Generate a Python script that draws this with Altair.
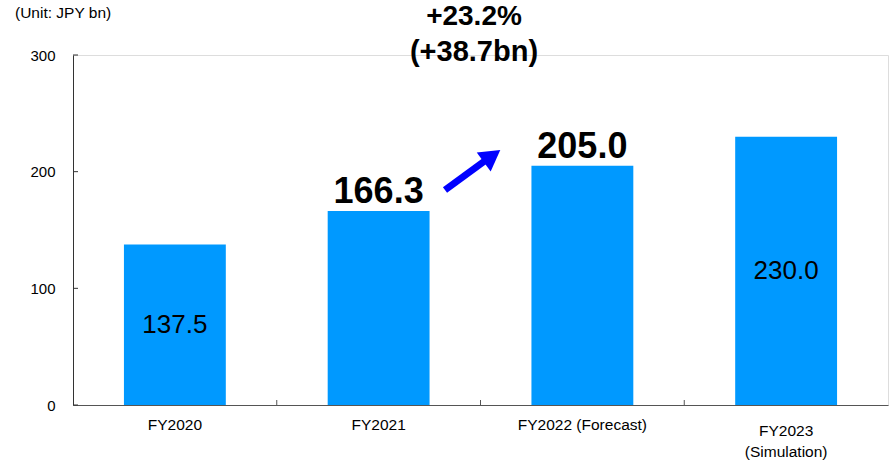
import altair as alt
import pandas as pd

# Net sales by fiscal year (JPY bn)
categories = ["FY2020", "FY2021", "FY2022 (Forecast)", "FY2023\n(Simulation)"]
values = [137.5, 166.3, 205.0, 230.0]
label_style = ["inside", "above", "above", "inside"]
y_ticks = [0, 100, 200, 300]
boundaries = ["FY2021", "FY2022 (Forecast)", "FY2023\n(Simulation)"]

FONT = "Liberation Sans"
BAR = "#0099FF"
W, H = 815, 350
STEP = W / len(categories)

df = pd.DataFrame({"cat": categories, "value": values, "style": label_style})
x_scale = alt.Scale(domain=categories, paddingInner=0.5, paddingOuter=0.25)
y_scale = alt.Scale(domain=[0, 300], nice=False)

base = alt.Chart(df)

# single-line category names come from the axis; two-line names are drawn below
bars = base.mark_bar(color=BAR).encode(
    x=alt.X("cat:N", scale=x_scale, sort=categories, title=None,
            axis=alt.Axis(labelAngle=0, labelFont=FONT, labelFontSize=15.5,
                          labelColor="#000000", labelPadding=12, tickSize=0,
                          domainColor="#555555", labelLimit=300,
                          labelExpr="indexof(datum.label, '\\n') >= 0 ? '' : datum.label")),
    y=alt.Y("value:Q", scale=y_scale, title=None,
            axis=alt.Axis(values=y_ticks, labelFont=FONT, labelFontSize=15,
                          labelColor="#000000", tickSize=0, labelPadding=18,
                          domainColor="#333333", grid=False)),
)

two_line = base.transform_filter("indexof(datum.cat, '\\n') >= 0").mark_text(
    font=FONT, fontSize=15.5, color="#000000", baseline="middle",
    lineBreak="\n", lineHeight=21, dy=-10,
).encode(
    x=alt.X("cat:N", scale=x_scale, sort=categories),
    y=alt.value(H + 36),
    text="cat:N",
)

inside = base.transform_filter("datum.style == 'inside'").transform_calculate(
    mid="datum.value / 2",
    txt="format(datum.value, '.1f')",
).mark_text(font=FONT, fontSize=26, color="#000000", baseline="middle").encode(
    x=alt.X("cat:N", scale=x_scale, sort=categories),
    y=alt.Y("mid:Q", scale=y_scale),
    text="txt:N",
)

above = base.transform_filter("datum.style == 'above'").transform_calculate(
    txt="format(datum.value, '.1f')"
).mark_text(font=FONT, fontSize=36, fontWeight="bold", color="#000000",
            baseline="alphabetic", dy=-8).encode(
    x=alt.X("cat:N", scale=x_scale, sort=categories),
    y=alt.Y("value:Q", scale=y_scale),
    text="txt:N",
)

# inward ticks on the y axis
ytick_df = pd.DataFrame({"v": y_ticks})
yticks = alt.Chart(ytick_df).mark_rule(color="#333333", strokeWidth=1).encode(
    y=alt.Y("v:Q", scale=y_scale),
    x=alt.value(0),
    x2=alt.value(5),
)

# inward ticks between categories on the x axis (half an inner gap left of each band)
xtick_df = pd.DataFrame({"cat": boundaries})
xticks = alt.Chart(xtick_df).mark_rule(color="#555555", strokeWidth=1,
                                       xOffset=-STEP * 0.25).encode(
    x=alt.X("cat:N", scale=x_scale, sort=categories, bandPosition=0),
    y=alt.value(H - 5),
    y2=alt.value(H),
)

one = pd.DataFrame({"k": [0]})

unit = alt.Chart(one).mark_text(font=FONT, fontSize=15.5, align="left",
                                baseline="middle", color="#000000").encode(
    x=alt.value(-58), y=alt.value(-42), text=alt.value("(Unit: JPY bn)"))

growth1 = alt.Chart(one).mark_text(font=FONT, fontSize=28, fontWeight="bold",
                                   baseline="middle", color="#000000").encode(
    x=alt.value(401), y=alt.value(-38), text=alt.value("+23.2%"))
growth2 = alt.Chart(one).mark_text(font=FONT, fontSize=29, fontWeight="bold",
                                   baseline="middle", color="#000000").encode(
    x=alt.value(401), y=alt.value(-3), text=alt.value("(+38.7bn)"))

shaft = alt.Chart(one).mark_rule(color="#0000FF", strokeWidth=7).encode(
    x=alt.value(372), y=alt.value(135), x2=alt.value(413), y2=alt.value(105))
head = alt.Chart(one).mark_point(shape="triangle-up", filled=True, opacity=1,
                                 color="#0000FF", size=560, angle=54).encode(
    x=alt.value(419), y=alt.value(101))

chart = alt.layer(bars, yticks, xticks, two_line, inside, above, unit, growth1,
                  growth2, shaft, head).properties(
    width=W, height=H,
    autosize=alt.AutoSizeParams(type="none"),
    padding={"left": 73, "top": 55, "right": 5, "bottom": 57},
).configure_view(stroke=None).configure(background="#FFFFFF")

chart.save("out.html", embed_options={"renderer": "svg", "actions": False})
